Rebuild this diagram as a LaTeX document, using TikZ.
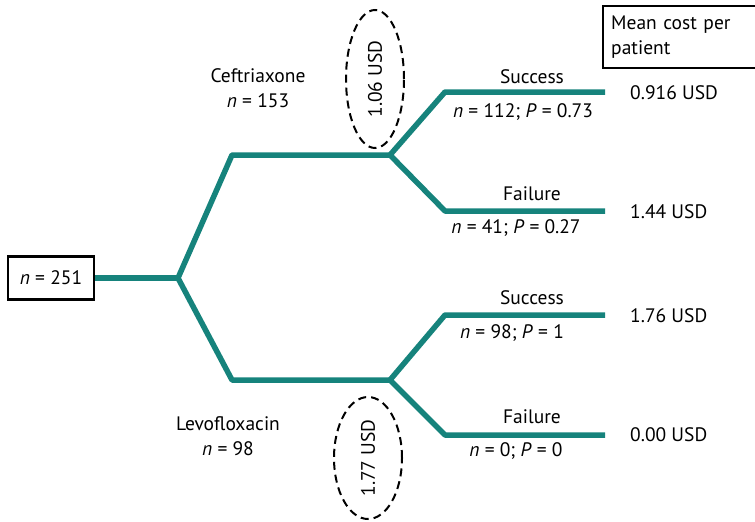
\documentclass[tikz,border=0pt]{standalone}
\usepackage{fontspec}
\setmainfont{PT Sans}
\usetikzlibrary{shapes.geometric}
\definecolor{branch}{HTML}{16837C}
\begin{document}
\begin{tikzpicture}[x=1pt,y=-1pt,
  every node/.style={font=\fontsize{19.5}{25}\selectfont, inner sep=0pt},
  arm/.style={draw=branch, line width=5.5pt, line join=round},
  framebox/.style={draw=black, line width=2.4pt, inner sep=4pt},
  costoval/.style={draw=black, dash pattern=on 8pt off 5pt, line width=2pt, ellipse, inner sep=0pt},
  costtext/.style={anchor=west},
  lbl/.style={align=center}]
  \useasboundingbox (0,0) rectangle (755,522);

  % root
  \node[framebox, minimum width=86pt, minimum height=43pt] (root) at (51,278) {\textit{n} = 251};
  \coordinate (fork) at (178,278);
  \coordinate (cU) at (232,155);  \coordinate (cE) at (390,155);
  \coordinate (lD) at (232,380);  \coordinate (lE) at (390,380);
  \coordinate (s1a) at (445,92);  \coordinate (s1b) at (605,92);
  \coordinate (f1a) at (445,211); \coordinate (f1b) at (605,211);
  \coordinate (s2a) at (445,315); \coordinate (s2b) at (605,315);
  \coordinate (f2a) at (445,435); \coordinate (f2b) at (605,435);

  % branches
  \draw[arm] (root.east) -- (fork);
  \draw[arm] (fork) -- (cU) -- (cE);
  \draw[arm] (fork) -- (lD) -- (lE);
  \draw[arm] (cE) -- (s1a) -- (s1b);
  \draw[arm] (cE) -- (f1a) -- (f1b);
  \draw[arm] (lE) -- (s2a) -- (s2b);
  \draw[arm] (lE) -- (f2a) -- (f2b);

  % treatment labels
  \node[lbl] (ceft) at (258,88) {Ceftriaxone\\\textit{n} = 153};
  \node[lbl] (levo) at (228,436) {Levofloxacin\\\textit{n} = 98};

  % expected costs per arm
  \node[costoval, minimum width=58pt, minimum height=138pt] (oval1) at (375,79) {};
  \node[rotate=90] at (oval1.center) {1.06 USD};
  \node[costoval, minimum width=68pt, minimum height=122pt] (oval2) at (368,458) {};
  \node[rotate=90] at (oval2.center) {1.77 USD};

  % outcome labels
  \node (suc1) at (532,77) {Success};
  \node (p1) at (523,112) {\textit{n} = 112; \textit{P} = 0.73};
  \node (fail1) at (532,194) {Failure};
  \node (p2) at (516,228) {\textit{n} = 41; \textit{P} = 0.27};
  \node (suc2) at (532,298) {Success};
  \node (p3) at (512,333) {\textit{n} = 98; \textit{P} = 1};
  \node (fail2) at (532,417) {Failure};
  \node (p4) at (516,451) {\textit{n} = 0; \textit{P} = 0};

  % costs
  \node[framebox, anchor=north west, align=left, minimum height=62pt, text width=140pt, inner xsep=8pt] (head) at (602,5) {Mean cost per\\patient};
  \node[costtext] (c1) at (630,93) {0.916 USD};
  \node[costtext] (c2) at (630,212) {1.44 USD};
  \node[costtext] (c3) at (630,316) {1.76 USD};
  \node[costtext] (c4) at (630,435) {0.00 USD};
\end{tikzpicture}
\end{document}
